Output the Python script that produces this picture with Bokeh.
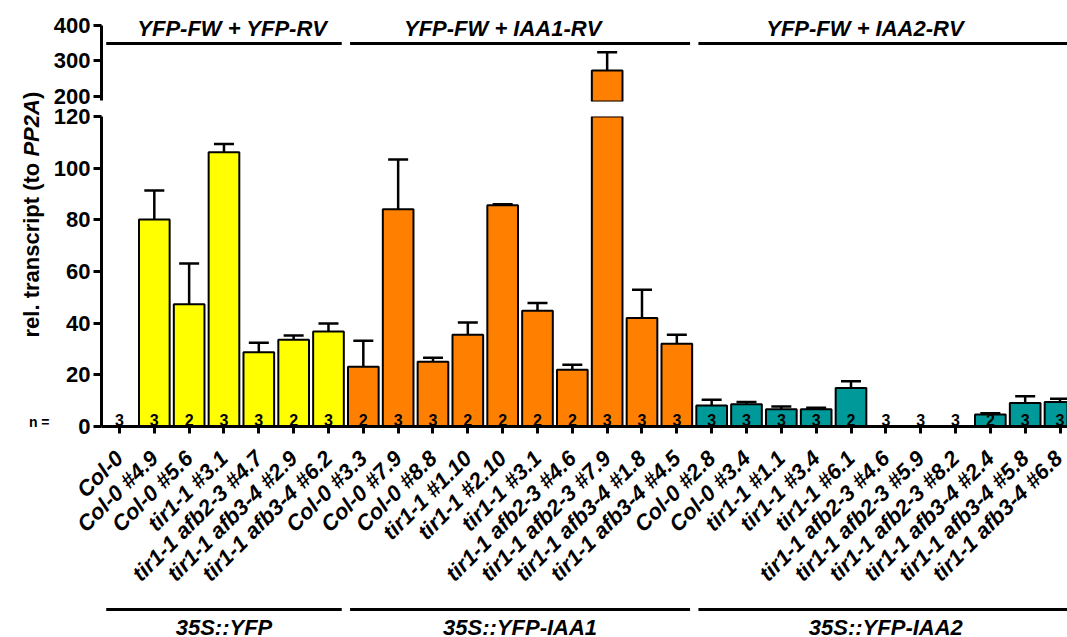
import math
from bokeh.plotting import figure
from bokeh.layouts import row, column
from bokeh.models import Range1d, FixedTicker, ColumnDataSource
from bokeh.embed import file_html
from bokeh.resources import INLINE
from bokeh.core.properties import value

# ---------------- data ----------------
yfp_labels = ["Col-0", "Col-0 #4.9", "Col-0 #5.6", "tir1-1 #3.1", "tir1-1 afb2-3 #4.7",
              "tir1-1 afb3-4 #2.9", "tir1-1 afb3-4 #6.2"]
yfp_mean = [0, 80.1, 47.3, 106.2, 28.7, 33.6, 36.8]
yfp_err = [0, 11.3, 15.8, 3.2, 3.7, 1.6, 3.1]
yfp_n = [3, 3, 2, 3, 3, 2, 3]

iaa1_labels = ["Col-0 #3.3", "Col-0 #7.9", "Col-0 #8.8", "tir1-1 #1.10", "tir1-1 #2.10",
               "tir1-1 #3.1", "tir1-1 afb2-3 #4.6", "tir1-1 afb2-3 #7.9",
               "tir1-1 afb3-4 #1.8", "tir1-1 afb3-4 #4.5"]
iaa1_mean = [23.1, 84.1, 25.1, 35.5, 85.6, 44.8, 22.0, 272.0, 42.0, 32.0]
iaa1_err = [10.1, 19.3, 1.5, 4.8, 0.4, 3.0, 1.9, 52.0, 10.9, 3.5]
iaa1_n = [2, 3, 3, 2, 2, 2, 2, 3, 3, 3]

iaa2_labels = ["Col-0 #2.8", "Col-0 #3.4", "tir1-1 #1.1", "tir1-1 #3.4", "tir1-1 #6.1",
               "tir1-1 afb2-3 #4.6", "tir1-1 afb2-3 #5.9", "tir1-1 afb2-3 #8.2",
               "tir1-1 afb3-4 #2.4", "tir1-1 afb3-4 #5.8", "tir1-1 afb3-4 #6.8"]
iaa2_mean = [8.1, 8.6, 6.7, 6.7, 14.9, 0, 0, 0, 4.6, 9.1, 9.5]
iaa2_err = [2.3, 0.9, 1.0, 0.6, 2.6, 0, 0, 0, 0.5, 2.6, 1.2]
iaa2_n = [3, 3, 3, 3, 2, 3, 3, 3, 2, 3, 3]

primer_titles = ["YFP-FW + YFP-RV", "YFP-FW + IAA1-RV", "YFP-FW + IAA2-RV"]
construct_titles = ["35S::YFP", "35S::YFP-IAA1", "35S::YFP-IAA2"]
lower_ticks = [0, 20, 40, 60, 80, 100, 120]
upper_ticks = [200, 300, 400]

# ---------------- styling ----------------
FONT = "Liberation Sans"
COLORS = ["#FFFF00", "#FF8000", "#009999"]

groups = [(yfp_labels, yfp_mean, yfp_err, yfp_n),
          (iaa1_labels, iaa1_mean, iaa1_err, iaa1_n),
          (iaa2_labels, iaa2_mean, iaa2_err, iaa2_n)]

labels, means, errs, ns, cols, spans = [], [], [], [], [], []
for gi, (lab, m, e, n) in enumerate(groups):
    start = len(labels)
    labels += lab
    means += m
    errs += e
    ns += n
    cols += [COLORS[gi]] * len(lab)
    spans.append((start, len(labels) - 1))
xs = list(range(len(labels)))

UP_LO, UP_HI = 184.4, 431.2
LO_LO, LO_HI = 0, 120


def bar_source(keep):
    idx = [i for i in xs if means[i] > 0 and keep(i)]
    return ColumnDataSource(dict(
        x=[xs[i] for i in idx],
        top=[means[i] for i in idx],
        hi=[means[i] + errs[i] for i in idx],
        color=[cols[i] for i in idx],
    ))


n_src = ColumnDataSource(dict(x=xs, n=[str(v) for v in ns]))

x_range = Range1d(-0.516, 27.215)
W = 1017
LEFT = 50


def style_y(ax):
    ax.axis_line_width = 3
    ax.axis_line_color = "black"
    ax.major_tick_line_width = 3
    ax.major_tick_line_color = "black"
    ax.major_tick_out = 8
    ax.major_tick_in = 0
    ax.minor_tick_line_color = None
    ax.major_label_text_font = FONT
    ax.major_label_text_font_style = "bold"
    ax.major_label_text_font_size = "22px"
    ax.major_label_text_color = "black"
    ax.major_label_standoff = 3


def draw_bars(p, src):
    p.segment(x0="x", y0="top", x1="x", y1="hi", line_color="black", line_width=2.5, source=src)
    p.dash(x="x", y="hi", size=20, line_color="black", line_width=2.5, source=src)
    p.vbar(x="x", top="top", bottom=0, width=0.88, fill_color="color",
           line_color="black", line_width=2, source=src)


def bold_text(p, x, y, t, size="22px", style="bold italic"):
    p.text(x=x, y=y, text=t, text_font=value(FONT), text_font_style=style,
           text_font_size=size, text_align="center", text_baseline="middle", text_color="black")


# ---------------- upper panel (broken axis top) ----------------
up = figure(width=W, height=107, x_range=x_range, y_range=Range1d(UP_LO, UP_HI),
            x_axis_location=None, toolbar_location=None, output_backend="svg",
            min_border_left=LEFT, min_border_right=0, min_border_top=14, min_border_bottom=6)
up.outline_line_color = None
up.xgrid.visible = False
up.ygrid.visible = False
up.yaxis.ticker = FixedTicker(ticks=upper_ticks)
up.yaxis.bounds = (186, 400)
style_y(up.yaxis[0])
draw_bars(up, bar_source(lambda i: means[i] > UP_LO))

header_x = [3.24, 11.0, 21.4]
for (s, e), t, hx in zip(spans, primer_titles, header_x):
    up.segment(x0=[s - 0.38], y0=[349], x1=[e + 0.38], y1=[349], line_color="black", line_width=3)
    bold_text(up, [hx], [391.5], [t])

# ---------------- lower panel ----------------
lo = figure(width=W, height=490, x_range=x_range, y_range=Range1d(LO_LO, LO_HI),
            toolbar_location=None, output_backend="svg",
            min_border_left=LEFT, min_border_right=0, min_border_top=9, min_border_bottom=170)
lo.outline_line_color = None
lo.xgrid.visible = False
lo.ygrid.visible = False
lo.yaxis.ticker = FixedTicker(ticks=lower_ticks)
style_y(lo.yaxis[0])
draw_bars(lo, bar_source(lambda i: True))
lo.text(x="x", y=0, text="n", source=n_src, text_font=value(FONT), text_font_style="bold",
        text_font_size="16px", text_align="center", text_baseline="middle",
        y_offset=-7, text_color="black")

xa = lo.xaxis[0]
xa.ticker = FixedTicker(ticks=xs)
xa.major_label_overrides = {i: l for i, l in zip(xs, labels)}
xa.major_label_orientation = math.pi / 4
xa.major_label_text_font = FONT
xa.major_label_text_font_style = "bold italic"
xa.major_label_text_font_size = "22px"
xa.major_label_text_color = "black"
xa.major_label_standoff = 21
xa.axis_line_width = 3
xa.axis_line_color = "black"
xa.major_tick_line_width = 3
xa.major_tick_line_color = "black"
xa.major_tick_out = 7
xa.major_tick_in = 0
xa.minor_tick_line_color = None

# ---------------- construct labels below ----------------
bt = figure(width=W, height=40, x_range=x_range, y_range=Range1d(0, 1),
            x_axis_location=None, y_axis_location=None, toolbar_location=None,
            output_backend="svg", min_border_left=LEFT, min_border_right=0,
            min_border_top=0, min_border_bottom=0)
bt.outline_line_color = None
bt.xgrid.visible = False
bt.ygrid.visible = False
for (s, e), t in zip(spans, construct_titles):
    bt.segment(x0=[s - 0.38], y0=[0.7], x1=[e + 0.38], y1=[0.7], line_color="black", line_width=3)
    bold_text(bt, [(s + e) / 2], [0.26], [t])

# ---------------- y axis title and n = ----------------
H = 637
yl = figure(width=50, height=H, x_range=Range1d(0, 50), y_range=Range1d(0, H),
            x_axis_location=None, y_axis_location=None, toolbar_location=None,
            output_backend="svg", min_border=0)
yl.outline_line_color = None
yl.xgrid.visible = False
yl.ygrid.visible = False
fs = 22
y0 = H - 337
pieces = [("rel. transcript (to ", "bold", 0.0),
          ("PP2A", "bold italic", 8.224 * fs),
          (")", "bold", (8.224 + 2.612) * fs)]
for txt, style, off in pieces:
    yl.text(x=[31], y=[y0 + off], text=[txt], angle=math.pi / 2, text_font=value(FONT),
            text_font_style=style, text_font_size=f"{fs}px",
            text_align="left", text_baseline="middle", text_color="black")
yl.text(x=[49], y=[H - 421], text=["n ="], text_font=value(FONT), text_font_style="bold",
        text_font_size="14px", text_align="right", text_baseline="middle", text_color="black")

layout = row(yl, column(up, lo, bt))
open("out.html", "w").write(file_html(layout, INLINE))
